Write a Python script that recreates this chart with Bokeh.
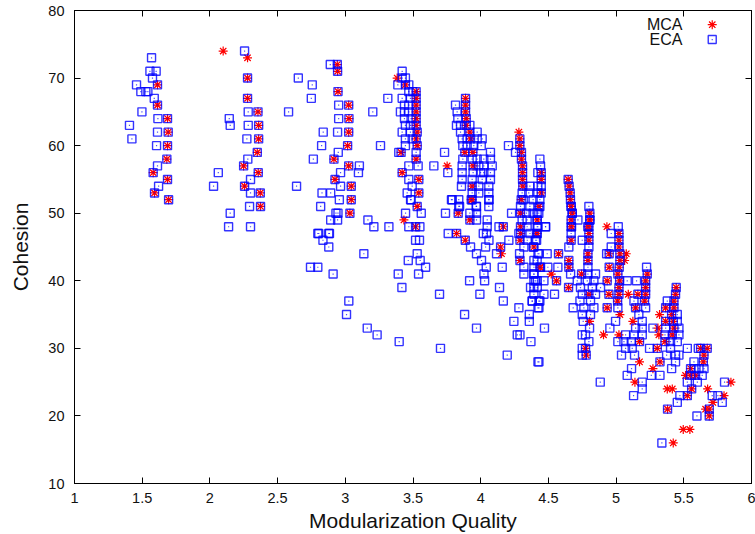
from bokeh.plotting import figure
from bokeh.models import LinearAxis, FixedTicker, ColumnDataSource
from bokeh.core.properties import value
from bokeh.embed import file_html
from bokeh.resources import INLINE

x_ticks = [1, 1.5, 2, 2.5, 3, 3.5, 4, 4.5, 5, 5.5, 6]
y_ticks = [10, 20, 30, 40, 50, 60, 70, 80]
x_title = "Modularization Quality"
y_title = "Cohesion"

# (modularization quality, cohesion)
both = [
 (1.613,69),(1.613,66),(1.687,64),(1.692,62),(1.687,60),(1.682,58),(1.581,56),(1.687,55),(1.591,53),(1.695,52),
 (2.278,70),(2.278,67),(2.355,65),(2.360,63),(2.360,61),(2.350,59),(2.249,57),(2.357,56),(2.256,54),(2.372,53),(2.374,51),
 (2.941,72),(2.943,71),(2.946,68),(3.025,66),(3.027,64),(3.025,62),(3.017,60),(2.916,58),(3.025,57),(2.924,55),(3.044,54),(3.044,52),(3.034,50),
 (3.444,69),(3.523,68),(3.523,67),(3.523,66),(3.523,65),(3.523,64),(3.523,63),(3.531,62),(3.523,61),(3.531,60),(3.412,59),(3.523,58),(3.420,56),(3.543,55),(3.543,53),(3.531,51),(3.519,48),
 (3.888,67),(3.888,66),(3.888,65),(3.893,64),(3.893,63),(3.920,62),(3.925,61),(3.883,59),(3.942,59),(3.944,57),(3.937,54),(3.930,52),(3.834,50),(3.920,49),(3.822,47),(3.886,46),(3.937,52),
 (4.289,61),(4.289,60),(4.301,59),(4.301,58),(4.309,57),(4.309,56),(4.447,56),(4.309,55),(4.447,55),(4.311,54),(4.447,53),(4.299,52),(4.294,50),(4.417,49),(4.294,48),(4.167,48),(4.295,47),(4.418,47),(4.290,46),(4.147,45),(4.290,43),(4.437,42),(4.430,51),
 (4.668,51),(4.676,50),(4.806,50),(4.806,49),(4.668,48),(4.799,48),(4.412,47),(4.799,47),(5.021,47),(4.668,46),(4.799,46),(5.021,46),(4.393,45),(5.021,45),(4.575,44),(4.792,44),(4.949,44),(5.028,44),(4.651,43),(4.792,43),(5.028,43),(4.442,42),(4.651,42),(4.949,42),(5.023,42),
 (4.646,55),(4.653,54),(4.661,53),(4.663,52),(4.668,51),(4.676,50),(4.668,49),(4.671,48),(4.806,49),(4.791,48),
 (4.745,41),(5.013,41),(5.230,41),(4.560,40),(4.934,40),(5.026,40),(5.218,40),(4.649,39),(5.021,39),(5.218,39),(5.444,39),(4.799,38),(4.947,38),(5.021,38),(5.161,38),(5.218,38),(5.439,38),
 (5.011,37),(5.210,37),(5.427,37),(4.934,36),(5.144,36),(5.366,36),(5.427,36),(5.410,35),(5.366,34),(5.422,34),(5.427,33),(5.415,32),(5.173,31),(5.361,31),(4.774,30),(5.304,30),(5.624,30),(5.673,30),
 (4.779,29),(5.649,29),(5.324,28),(5.644,28),(5.550,27),(5.550,26),(5.587,26),(5.558,24),(5.526,23),(5.380,21),(5.688,21),(5.688,20),
]
mca_only = [
 (2.098,74),(2.278,73),(3.383,70),(3.433,49),(3.752,57),(4.282,62),(4.154,44),
 (4.521,41),(4.932,48),(5.075,44),(5.063,43),(5.090,38),(5.028,35),(5.321,35),(4.804,34),(5.124,34),(5.309,33),(4.907,32),(5.021,32),(5.316,32),
 (5.173,28),(5.272,27),(5.513,26),(5.139,25),(5.848,25),(5.378,24),(5.415,24),(5.676,24),(5.797,23),(5.715,22),(5.661,21),(5.496,18),(5.545,18),(5.422,16),
]
eca_only = [
 (1.569,73),(1.557,71),(1.603,71),(1.576,70),(1.458,69),(1.490,68),(1.542,68),(1.527,68),(1.589,67),(1.498,65),(1.616,64),(1.406,63),(1.613,62),(1.424,61),(1.606,60),(1.613,57),(1.621,54),
 (2.256,74),(2.283,65),(2.143,64),(2.150,63),(2.283,63),(2.273,61),(2.280,58),(2.062,56),(2.300,55),(2.027,54),(2.300,53),(2.293,51),(2.150,50),(2.138,48),(2.300,48),
 (2.889,72),(2.653,70),(2.756,69),(2.749,67),(2.951,66),(2.581,65),(2.951,64),(2.837,62),(2.943,62),(2.825,60),(2.948,59),(2.764,58),(2.965,56),(3.097,56),(2.640,54),(2.965,54),(2.828,53),(2.892,53),(2.956,52),(2.818,51),(2.931,50),(2.946,50),(2.892,49),(2.943,49),(2.797,47),(2.878,47),(2.835,46),(2.804,47),(2.883,47),(2.878,45),(2.743,42),(2.797,42),(2.910,41),(3.026,37),(3.009,35),
 (3.420,71),(3.420,70),(3.444,70),(3.388,69),(3.469,69),(3.469,68),(3.499,68),(3.314,67),(3.420,67),(3.481,67),(3.437,66),(3.469,66),(3.203,65),(3.407,65),(3.437,65),(3.469,65),(3.437,64),(3.486,64),(3.444,63),(3.481,63),(3.420,62),(3.481,62),(3.444,61),(3.494,61),(3.260,60),(3.444,60),(3.395,59),(3.523,59),(3.104,57),(3.469,57),(3.538,57),(3.469,55),(3.494,54),(3.457,53),(3.486,52),(3.482,52),
 (3.445,50),(3.561,50),(3.167,49),(3.211,48),(3.322,48),(3.469,48),(3.551,48),(3.519,46),(3.548,46),(3.137,44),(3.531,44),(3.465,43),(3.553,43),(3.593,42),(3.391,41),(3.541,41),(3.418,39),(3.696,38),(3.162,33),(3.235,32),(3.398,31),(3.703,30),
 (3.814,66),(3.826,65),(3.831,64),(3.821,63),(3.851,63),(3.920,63),(3.851,62),(3.974,62),(3.863,61),(3.900,61),(3.974,61),(4.011,61),(3.868,60),(3.900,60),(3.949,60),(4.004,60),(3.733,59),(4.072,59),(3.868,58),(3.937,58),(3.974,58),(4.023,58),(4.072,58),(3.654,57),(3.863,57),(3.986,57),(4.023,57),(4.085,57),(3.757,56),(3.863,56),(3.944,56),(3.999,56),(4.023,56),(4.072,56),(3.863,55),(3.937,55),(4.011,55),(4.072,55),(3.858,54),(3.986,54),(4.060,54),(3.937,53),(3.986,53),(4.060,53),(3.784,52),(3.838,52),(4.060,52),(3.838,51),(3.969,51),(4.060,51),(3.790,52),(4.061,52),(3.844,51),(3.967,51),
 (3.740,50),(3.920,50),(3.969,50),(3.969,49),(4.048,49),(4.048,48),(4.135,48),(3.760,47),(4.019,47),(4.043,47),(4.061,46),(3.925,45),(4.036,45),(3.969,44),(4.117,44),(4.006,43),(4.041,42),(4.159,42),(4.024,41),(3.918,40),(4.029,40),(4.139,39),(3.994,38),(4.167,37),(3.881,35),(3.969,33),(4.196,29),
 (4.205,60),(4.257,59),(4.437,58),(4.442,57),(4.422,56),(4.363,54),(4.422,54),(4.447,54),(4.306,53),(4.355,53),(4.422,53),(4.314,52),(4.387,52),(4.437,52),(4.294,51),(4.363,51),(4.437,51),(4.338,50),(4.387,50),(4.429,50),(4.228,50),(4.306,49),(4.343,49),(4.343,48),(4.422,48),(4.479,48),(4.282,47),(4.364,47),(4.208,46),(4.344,46),(4.413,46),(4.319,45),(4.388,45),(4.287,44),(4.423,44),(4.393,43),(4.319,42),(4.393,42),(4.319,41),(4.393,41),(4.393,40),(4.418,40),(4.368,39),(4.418,39),(4.393,38),(4.381,37),(4.430,37),(4.282,36),(4.423,36),(4.359,35),(4.245,34),(4.359,34),(4.270,32),(4.290,32),(4.371,31),(4.423,28),
 (4.799,51),(4.417,50),(4.417,49),(4.718,49),(4.417,48),(4.479,48),(5.016,48),(4.668,47),(4.964,47),(4.405,46),(4.750,46),(4.651,45),(4.799,45),(4.964,45),(4.430,44),(4.491,44),(4.930,44),(4.417,43),(4.496,42),(4.570,42),(4.792,42),(5.225,42),(4.393,41),(4.664,41),(4.792,41),(4.848,41),
 (4.405,40),(4.467,40),(4.713,40),(4.787,40),(4.836,40),(5.082,40),(5.151,40),(4.393,39),(4.737,39),(4.824,39),(4.885,39),(4.467,38),(4.545,38),(4.750,38),(4.848,38),(4.380,37),(4.437,37),(4.733,37),(4.811,37),(5.132,37),(5.378,37),(4.430,36),(4.683,36),(4.762,36),(4.836,36),(5.013,36),(5.218,36),(4.750,35),(4.811,35),(5.168,35),(5.452,35),(4.757,34),(4.996,34),(5.193,34),(5.452,34),(4.471,33),(4.804,33),(4.954,33),(5.144,33),(5.193,33),(5.272,33),(5.366,33),(5.464,33),(4.750,32),(4.774,32),(5.070,32),(5.132,32),(5.193,32),(5.361,32),(5.464,32),
 (4.799,31),(5.013,31),(5.058,31),(5.112,31),(5.402,31),(5.452,31),(4.750,30),(5.070,30),(5.119,30),(5.247,30),(5.402,30),(5.526,30),(5.607,30),(4.750,29),(5.040,29),(5.136,29),(5.373,29),(5.439,29),(5.464,29),(4.430,28),(5.439,28),(5.575,28),(5.114,27),(5.410,27),(5.575,27),(5.612,27),(5.649,27),(5.082,26),(5.260,26),(5.324,26),(5.636,26),(4.883,25),(5.193,25),(5.526,25),(5.600,25),(5.801,25),(5.193,24),(5.129,23),(5.471,23),(5.710,23),(5.752,23),(5.452,22),(5.784,22),(5.597,20),(5.338,16),
]
legend_labels = ["MCA", "ECA"]

RED = "#ff0000"
BLUE = "#0000ff"
FONT = "Liberation Sans"

p = figure(width=755, height=534, frame_width=677, frame_height=473,
           x_range=(1, 6), y_range=(10, 80),
           output_backend="svg", toolbar_location=None,
           min_border_left=74, min_border_right=4, min_border_top=10, min_border_bottom=51,
           background_fill_color="white", border_fill_color="white")
p.grid.visible = False
p.outline_line_color = "black"
p.outline_line_width = 1

def style(ax, ticks):
    ax.ticker = FixedTicker(ticks=ticks)
    ax.minor_tick_line_color = None
    ax.major_tick_in = 6
    ax.major_tick_out = 0
    ax.axis_line_color = "black"
    ax.major_tick_line_color = "black"
    ax.major_tick_line_width = 1

style(p.xaxis[0], x_ticks)
style(p.yaxis[0], y_ticks)
for ax, ticks in ((p.xaxis[0], x_ticks), (p.yaxis[0], y_ticks)):
    ax.major_label_overrides = {t: f"{t:g}" for t in ticks}
    ax.major_label_text_font = FONT
    ax.major_label_text_font_size = "14.5px"
    ax.major_label_text_color = "#111111"
    ax.axis_label_text_font = FONT
    ax.axis_label_text_font_size = "21px"
    ax.axis_label_text_font_style = "normal"
    ax.axis_label_text_color = "#111111"
p.xaxis[0].axis_label = x_title
p.yaxis[0].axis_label = y_title
p.xaxis[0].major_label_standoff = 9
p.yaxis[0].major_label_standoff = 10
p.xaxis[0].axis_label_standoff = 3
p.yaxis[0].axis_label_standoff = 13

for place, ticks in (("above", x_ticks), ("right", y_ticks)):
    ax = LinearAxis()
    style(ax, ticks)
    ax.major_label_overrides = {t: "" for t in ticks}
    ax.major_label_text_font_size = "1px"
    ax.major_label_standoff = 0
    p.add_layout(ax, place)

mca = both + mca_only
eca = both + eca_only
mca_src = ColumnDataSource(dict(x=[a for a, _ in mca], y=[b for _, b in mca]))
eca_src = ColumnDataSource(dict(x=[a for a, _ in eca], y=[b for _, b in eca]))

def draw_mca(src):
    p.scatter("x", "y", source=src, marker="asterisk", size=9, line_color=RED, line_width=1.2)
    p.scatter("x", "y", source=src, marker="x", size=7, line_color=RED, line_width=1)

def draw_eca(src):
    p.scatter("x", "y", source=src, marker="square", size=8, fill_color=None, line_color=BLUE, line_width=1.4, line_alpha=0.8)
    p.scatter("x", "y", source=src, marker="square", size=1.2, fill_color=BLUE, fill_alpha=0.7, line_color=None)

draw_mca(mca_src)
draw_eca(eca_src)

# key, top right inside the plot
draw_mca(ColumnDataSource(dict(x=[5.71], y=[77.9])))
draw_eca(ColumnDataSource(dict(x=[5.71], y=[75.7])))
p.text(x=[5.49, 5.49], y=[77.9, 75.7], text=legend_labels, text_align="right", text_baseline="middle",
       text_font=value(FONT), text_font_size="16px", text_color="#111111")

open("out.html", "w").write(file_html(p, INLINE))
